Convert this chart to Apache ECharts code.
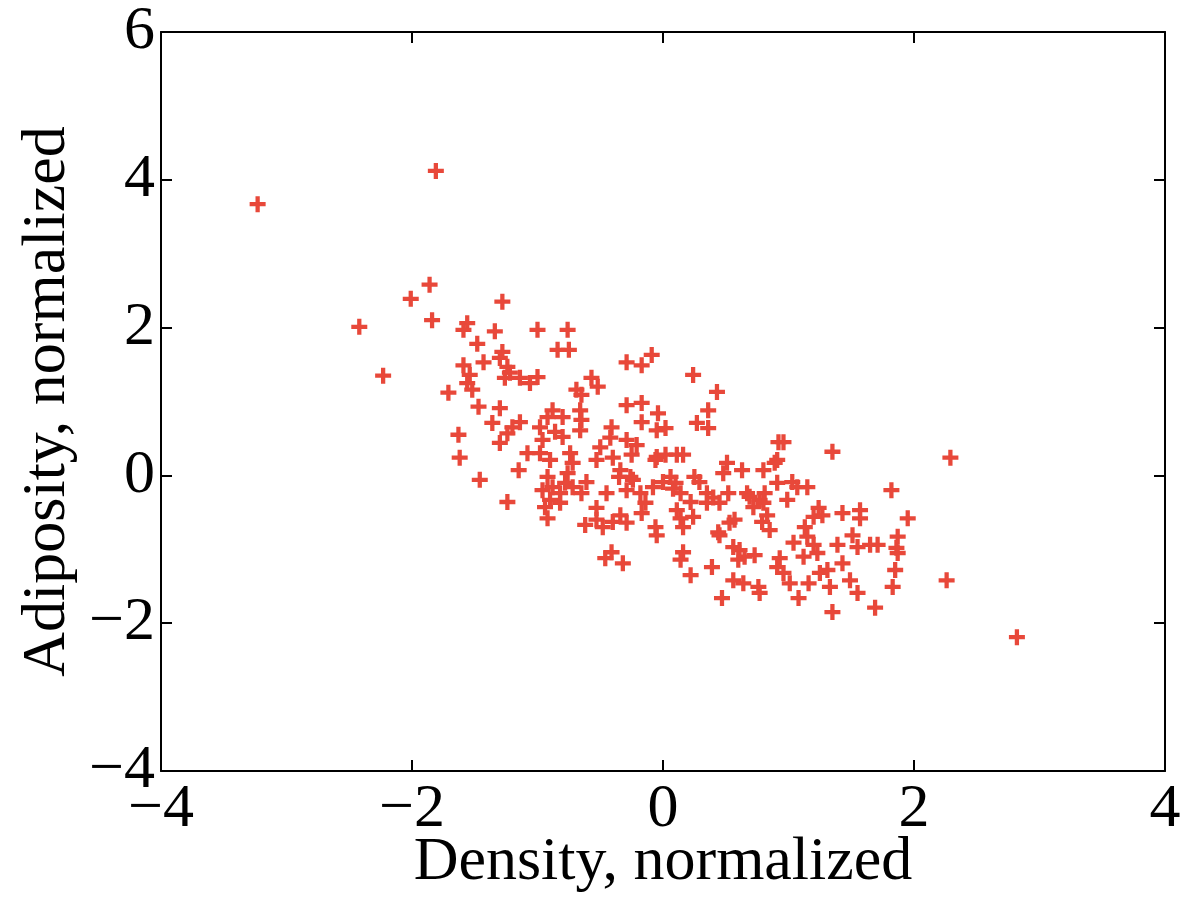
<!DOCTYPE html>
<html>
<head>
<meta charset="utf-8">
<script src="https://cdn.jsdelivr.net/npm/echarts@6/dist/echarts.min.js"></script>
<style>
html,body{margin:0;padding:0;background:#fff;}
#chart{width:1193px;height:899px;}
</style>
</head>
<body>
<div id="chart"></div>
<script>
// Data
const density = [
-3.23,-1.81,-1.86,-2.01,-1.84,-2.42,-1.28,-1.56,-1.59,-1.34,-1.48,-1.28,-1.43,-1.59,-1.54,-1.24,-1.22,-1.26,-1.14,-1.06,
-1.00,-1.00,-2.23,-1.71,-1.56,-1.52,-0.76,-0.84,-0.75,-1.30,-1.47,-1.30,-1.36,-1.20,-1.14,-1.24,-1.63,-1.30,-0.98,-0.88,
-0.92,-0.80,-0.86,-0.80,-0.66,-0.65,-0.66,-0.69,-0.65,-0.57,-0.52,-1.62,-1.46,-1.24,-1.15,-1.08,-0.96,-0.98,-0.90,-0.74,
-0.72,-0.76,-0.92,-0.96,-0.88,-0.90,-0.82,-0.78,-0.72,-0.65,-0.82,-0.92,-0.62,-0.53,-0.53,-0.50,-0.29,-0.17,-0.09,0.24,
0.43,0.36,0.27,0.36,-0.29,-0.17,-0.04,0.02,-0.05,-0.17,-0.41,-0.42,-0.29,-0.21,-0.25,-0.40,-0.34,-0.24,-0.05,0.02,
0.11,0.16,0.06,0.00,0.10,0.25,0.29,0.51,0.63,0.48,0.80,0.91,0.92,-0.45,-0.18,-0.08,0.14,0.35,0.52,0.67,
0.91,-0.29,-0.14,-0.17,-0.34,-0.40,-0.29,-0.48,-0.06,-0.05,0.22,0.11,0.14,0.16,0.24,0.45,0.72,0.77,0.83,0.79,
0.85,0.53,0.57,0.44,0.45,0.56,0.61,0.65,0.73,0.60,0.56,0.64,0.76,0.77,0.47,0.39,0.16,0.14,0.22,-0.41,
-0.46,-0.32,0.91,0.96,1.35,2.29,0.89,1.03,1.07,1.15,0.99,1.82,1.95,1.24,1.27,1.20,1.43,1.57,1.57,1.13,
1.15,1.04,1.20,1.39,1.51,1.55,1.65,1.71,1.87,1.86,1.87,0.93,1.12,1.23,1.31,1.43,1.25,0.96,1.01,1.16,
1.33,1.49,1.85,2.26,1.83,1.55,1.08,1.35,1.69,2.82,0.81,0.40,0.69,-0.61,-0.26,-0.53,0.08,-0.94,-0.06,0.35,
0.80,-0.35
];
const adiposity = [
3.67,4.12,2.58,2.39,2.10,2.01,2.35,2.06,1.97,1.95,1.78,1.67,1.53,1.49,1.36,1.47,1.39,1.32,1.32,1.25,
1.33,1.97,1.35,1.12,1.25,1.16,1.97,1.70,1.70,1.59,0.93,0.91,0.71,0.65,0.72,0.57,0.55,0.44,0.65,0.88,
0.79,0.79,0.59,0.52,0.88,0.75,0.61,1.16,1.09,1.32,1.20,0.24,-0.06,-0.36,0.07,0.30,0.48,0.30,0.21,0.30,
0.17,0.03,-0.02,-0.20,-0.16,-0.33,-0.24,-0.10,-0.16,-0.24,-0.37,-0.58,-0.67,0.21,-0.60,0.38,1.53,1.49,1.63,1.36,
1.13,0.88,0.71,0.64,0.95,0.98,0.84,0.64,0.61,0.72,0.65,0.51,0.48,0.41,0.28,0.24,0.07,-0.06,0.25,0.28,
0.28,0.28,-0.02,-0.09,-0.10,-0.02,-0.09,0.17,0.07,0.03,0.07,0.21,0.45,-0.24,-0.24,-0.16,-0.24,-0.24,-0.24,-0.24,
-0.10,-0.20,-0.37,-0.51,-0.54,-0.63,-0.64,-0.70,-0.70,-0.81,-0.36,-0.47,-0.58,-0.70,-0.56,-0.37,-0.43,-0.33,-0.54,-0.63,
-0.74,-0.64,-0.60,-0.77,-0.81,-0.97,-1.01,-1.10,-1.08,-1.14,-1.42,-1.46,-1.51,-1.59,-1.66,-1.24,-1.04,-1.14,-1.35,-1.04,
-1.12,-1.19,-1.24,0.45,0.32,0.24,0.17,-0.09,-0.16,-0.16,-0.33,-0.20,-0.58,-0.44,-0.54,-0.56,-0.51,-0.47,-0.58,-0.70,
-0.83,-0.91,-0.94,-0.94,-0.81,-0.97,-0.94,-0.94,-0.83,-0.98,-1.05,-1.12,-1.10,-1.05,-1.28,-1.19,-1.32,-1.32,-1.46,-1.46,
-1.51,-1.42,-1.28,-1.42,-1.51,-1.59,-1.66,-1.85,-1.79,-2.19,-0.24,-0.30,-0.29,-0.09,-0.02,-0.44,-0.18,-0.43,0.21,-0.37,
-0.37,-0.02
];
const xTicks = [-4, -2, 0, 2, 4];
const yTicks = [-4, -2, 0, 2, 4, 6];
const xTitle = 'Density, normalized';
const yTitle = 'Adiposity, normalized';

const points = density.map((d, i) => [d, adiposity[i]]);
const fmt = v => String(v).replace('-', '\u2212');
const font = '"Liberation Serif", "DejaVu Serif", serif';

const frameAxis = (extra) => Object.assign({
  type: 'value',
  axisLine: { show: true, onZero: false, lineStyle: { color: '#000', width: 2 } },
  axisTick: { show: true, inside: true, length: 11, lineStyle: { color: '#000', width: 2 } },
  splitLine: { show: false },
}, extra);

const chart = echarts.init(document.getElementById('chart'), null, { renderer: 'canvas' });
chart.setOption({
  backgroundColor: '#ffffff',
  animation: false,
  grid: { left: 161, right: 28, top: 32, bottom: 128, containLabel: false, outerBoundsMode: 'none' },
  xAxis: [
    frameAxis({
      position: 'bottom', min: xTicks[0], max: xTicks[xTicks.length - 1], interval: 2,
      axisLabel: { show: true, margin: 8, color: '#000', fontFamily: font, fontSize: 62, formatter: fmt },
      name: xTitle, nameLocation: 'middle', nameGap: 61, nameMoveOverlap: false,
      nameTextStyle: { color: '#000', fontFamily: font, fontSize: 62 }
    }),
    frameAxis({
      position: 'top', min: xTicks[0], max: xTicks[xTicks.length - 1], interval: 2,
      axisLabel: { show: false }
    })
  ],
  yAxis: [
    frameAxis({
      position: 'left', min: yTicks[0], max: yTicks[yTicks.length - 1], interval: 2,
      axisLabel: { show: true, margin: 6, color: '#000', fontFamily: font, fontSize: 62, formatter: fmt },
      name: yTitle, nameLocation: 'middle', nameGap: 82, nameMoveOverlap: false,
      nameTextStyle: { color: '#000', fontFamily: font, fontSize: 62 }
    }),
    frameAxis({
      position: 'right', min: yTicks[0], max: yTicks[yTicks.length - 1], interval: 2,
      axisLabel: { show: false }
    })
  ],
  series: [{
    type: 'scatter',
    xAxisIndex: 0, yAxisIndex: 0,
    data: points,
    symbol: 'path://M4.4,0 H7.6 V4.4 H12 V7.6 H7.6 V12 H4.4 V7.6 H0 V4.4 H4.4 Z',
    symbolSize: 16,
    itemStyle: { color: '#E8483A', opacity: 1 },
    emphasis: { disabled: true }
  }]
});
</script>
</body>
</html>
